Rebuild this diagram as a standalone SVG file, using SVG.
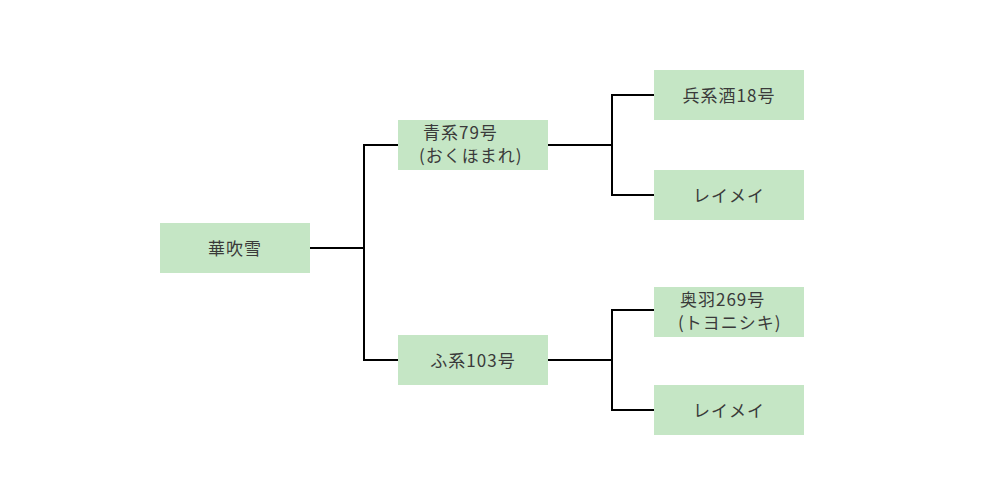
<svg xmlns="http://www.w3.org/2000/svg" width="1000" height="500" viewBox="0 0 1000 500">
<style>
.box{fill:#c5e6c5}
.t{font-family:"Noto Sans CJK JP","Liberation Sans",sans-serif;font-size:17px;fill:#3a3a3a;letter-spacing:1px}
.c{text-anchor:middle}
.ln{fill:none;stroke:#000;stroke-width:2}
</style>
<rect width="1000" height="500" fill="#fff"/>
<g id="connectors">
<path class="ln" d="M310,248 H364 M364,145 V360 M363,145 H398 M363,360 H398"/>
<path class="ln" d="M548,145 H612 M612,95 V195 M611,95 H654 M611,195 H654"/>
<path class="ln" d="M548,360 H612 M612,310 V410 M611,310 H654 M611,410 H654"/>
</g>
<g id="n1"><rect class="box" x="160" y="223" width="150" height="50"/><text class="t c" x="235" y="255">華吹雪</text></g>
<g id="n2"><rect class="box" x="398" y="120" width="150" height="50"/><text class="t" x="423" y="139">青系79号</text><text class="t" x="419" y="162">(おくほまれ)</text></g>
<g id="n3"><rect class="box" x="398" y="335" width="150" height="50"/><text class="t c" x="473" y="367">ふ系103号</text></g>
<g id="n4"><rect class="box" x="654" y="70" width="150" height="50"/><text class="t c" x="729" y="102">兵系酒18号</text></g>
<g id="n5"><rect class="box" x="654" y="170" width="150" height="50"/><text class="t c" x="729" y="202">レイメイ</text></g>
<g id="n6"><rect class="box" x="654" y="287" width="150" height="50"/><text class="t" x="680" y="306">奥羽269号</text><text class="t" x="678" y="329">(トヨニシキ)</text></g>
<g id="n7"><rect class="box" x="654" y="385" width="150" height="50"/><text class="t c" x="729" y="417">レイメイ</text></g>
</svg>
